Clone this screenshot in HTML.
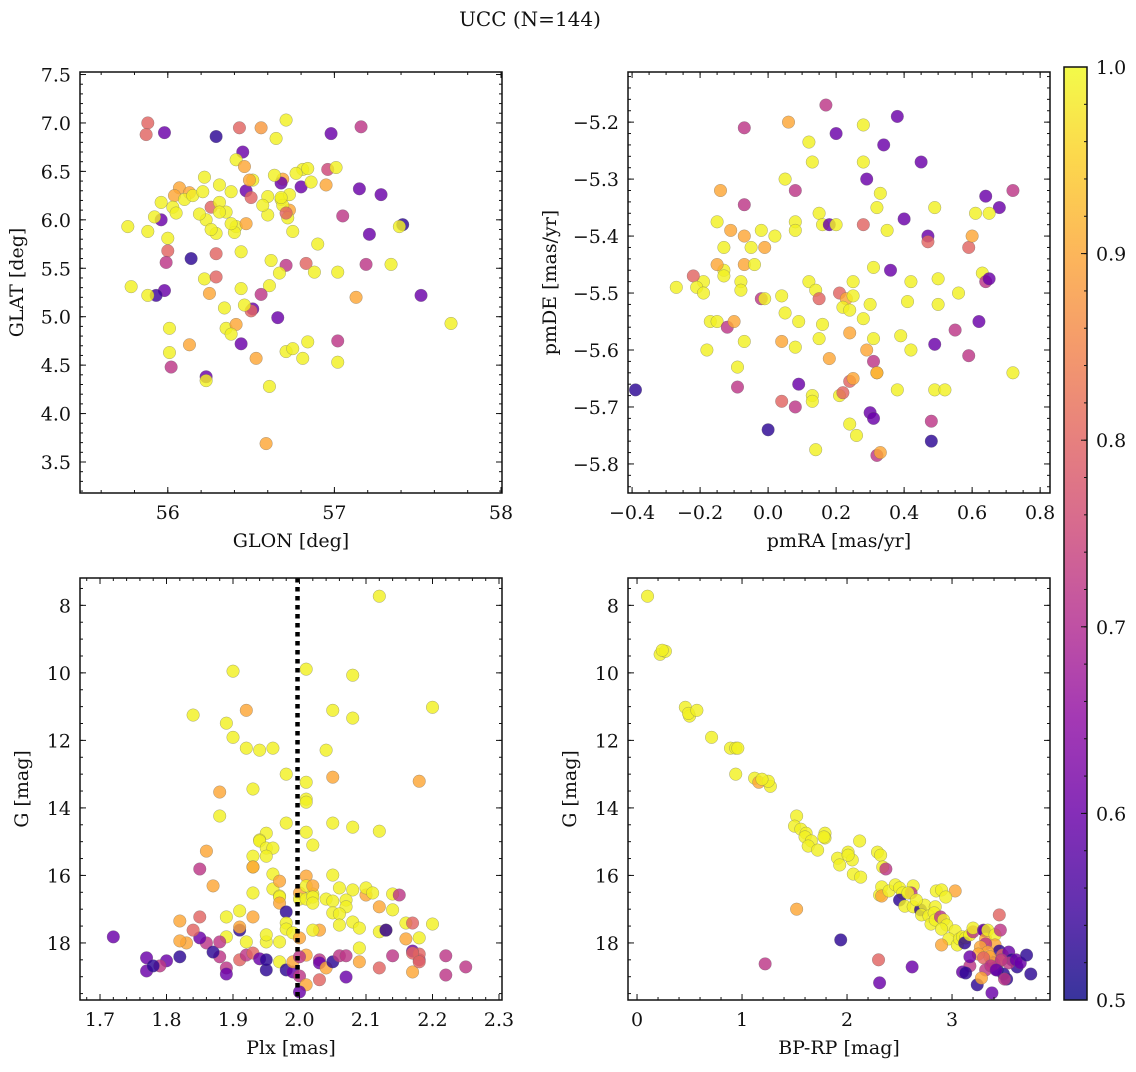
<!DOCTYPE html>
<html><head><meta charset="utf-8">
<style>
html,body{margin:0;padding:0;background:#fff;}
svg text{font-family:"DejaVu Serif","Liberation Serif",serif;fill:#111;}
</style></head>
<body>
<svg id="fig" width="1136" height="1067" viewBox="0 0 1136 1067" xmlns="http://www.w3.org/2000/svg">
<defs>
<linearGradient id="cbg" x1="0" y1="1" x2="0" y2="0">
<stop offset="0" stop-color="#0d0887"/><stop offset="0.1" stop-color="#41049d"/><stop offset="0.2" stop-color="#6a00a8"/><stop offset="0.3" stop-color="#8f0da4"/><stop offset="0.4" stop-color="#b12a90"/><stop offset="0.5" stop-color="#cc4778"/><stop offset="0.6" stop-color="#e16462"/><stop offset="0.7" stop-color="#f2844b"/><stop offset="0.8" stop-color="#fca636"/><stop offset="0.9" stop-color="#fcce25"/><stop offset="1" stop-color="#f0f921"/>
</linearGradient>
</defs>
<text x="530" y="26" font-size="20" text-anchor="middle">UCC (N=144)</text>
</svg>
<script>
// ---- Data (per panel) ----
const tlGlon=[55.88,55.87,55.98,56.29,56.43,56.56,56.71,56.65,56.98,57.16,56.45,56.41,56.46,56.22,56.07,56.04,56.13,56.03,55.96,55.96,55.92,56.05,56.10,56.15,56.21,56.26,56.31,56.31,56.38,56.47,56.50,56.51,56.69,56.68,56.60,56.68,56.73,56.73,56.69,56.72,56.75,56.60,56.57,56.80,56.81,56.77,56.96,57.01,56.95,57.15,57.28,57.41,57.39,57.21,57.05,56.90,57.34,57.19,57.02,56.83,56.88,56.71,56.67,56.62,56.61,56.56,56.51,56.50,56.46,56.44,56.35,56.41,56.40,56.44,56.29,56.22,56.25,56.29,56.34,56.35,56.41,56.38,56.47,56.29,56.23,56.19,56.26,56.00,56.00,56.14,55.99,55.98,55.93,55.88,55.88,55.76,55.78,56.01,56.01,56.02,56.13,56.23,56.23,56.44,56.53,56.61,56.66,56.71,56.75,56.81,56.84,57.02,57.02,57.13,57.52,57.70,56.59,56.68,56.71,56.84,56.86,56.64,56.49,56.31,56.38];
const tlGlat=[7.00,6.88,6.90,6.86,6.95,6.95,7.03,6.84,6.89,6.96,6.70,6.62,6.55,6.44,6.33,6.25,6.28,6.13,6.18,6.00,6.03,6.07,6.21,6.25,6.29,6.13,6.18,6.36,6.29,6.30,6.23,6.41,6.42,6.38,6.24,6.21,6.10,6.26,6.15,6.02,5.88,6.05,6.15,6.34,6.52,6.48,6.52,6.54,6.36,6.32,6.26,5.95,5.93,5.85,6.04,5.75,5.54,5.54,5.46,5.55,5.46,5.53,5.45,5.58,5.32,5.23,5.08,5.06,5.12,5.29,6.08,5.93,5.87,5.67,5.65,5.39,5.24,5.41,5.09,4.88,4.92,4.82,5.96,5.86,6.00,6.06,5.90,5.81,5.68,5.60,5.56,5.27,5.22,5.22,5.88,5.93,5.31,4.88,4.63,4.48,4.71,4.38,4.34,4.72,4.57,4.28,4.99,4.64,4.67,4.57,4.74,4.75,4.53,5.20,5.22,4.93,3.69,6.23,6.07,6.53,6.39,6.46,6.41,6.08,5.96];
const tlProb=[0.8,0.8,0.6,0.53,0.8,0.88,0.99,0.99,0.6,0.72,0.6,0.99,0.9,0.99,0.9,0.9,0.9,0.99,0.99,0.6,0.99,0.99,0.99,0.99,0.99,0.8,0.99,0.99,0.99,0.6,0.8,0.99,0.9,0.6,0.99,0.99,0.9,0.99,0.99,0.99,0.99,0.99,0.99,0.6,0.99,0.99,0.75,0.99,0.9,0.6,0.6,0.53,0.99,0.6,0.72,0.99,0.99,0.72,0.99,0.8,0.99,0.72,0.99,0.99,0.99,0.72,0.6,0.8,0.99,0.99,0.99,0.99,0.99,0.99,0.8,0.99,0.9,0.8,0.99,0.99,0.9,0.99,0.9,0.99,0.99,0.99,0.99,0.99,0.8,0.53,0.72,0.6,0.55,0.99,0.99,0.99,0.99,0.99,0.99,0.72,0.9,0.6,0.99,0.6,0.9,0.99,0.6,0.99,0.99,0.99,0.99,0.72,0.99,0.9,0.6,0.99,0.9,0.99,0.8,0.99,0.99,0.99,0.9,0.99,0.99];

const trPmra=[-0.39,0.17,0.06,0.12,0.20,0.28,0.38,0.34,0.45,0.28,0.29,0.13,0.05,-0.14,-0.07,0.08,0.33,0.32,0.64,0.72,0.68,0.65,0.61,0.40,0.49,0.15,0.16,0.08,0.08,0.18,0.20,0.28,0.35,0.36,0.47,0.47,0.59,0.60,-0.07,-0.15,-0.11,-0.07,-0.02,0.02,-0.01,-0.05,-0.13,-0.13,-0.15,-0.07,-0.04,-0.19,-0.13,-0.08,-0.22,-0.21,-0.19,-0.27,-0.08,-0.02,-0.01,0.04,0.05,0.12,0.14,0.15,0.21,0.23,0.25,0.25,0.22,0.24,0.30,0.31,0.42,0.50,0.56,0.63,0.64,0.65,0.62,0.55,0.50,0.41,0.24,0.28,0.16,0.09,0.15,0.08,0.04,-0.17,-0.18,-0.15,-0.12,-0.10,-0.07,0.29,0.31,0.31,0.32,0.39,0.49,0.59,0.72,0.42,-0.09,-0.09,0.09,0.04,0.08,0.00,0.13,0.13,0.24,0.25,0.21,0.22,0.32,0.30,0.31,0.38,0.49,0.52,0.48,0.48,0.24,0.26,0.32,0.33,0.14,0.18];
const trPmde=[-5.67,-5.17,-5.20,-5.235,-5.22,-5.205,-5.19,-5.24,-5.27,-5.27,-5.30,-5.27,-5.30,-5.32,-5.21,-5.32,-5.325,-5.35,-5.33,-5.32,-5.35,-5.36,-5.36,-5.37,-5.35,-5.36,-5.38,-5.375,-5.39,-5.38,-5.38,-5.38,-5.39,-5.46,-5.40,-5.41,-5.42,-5.40,-5.345,-5.375,-5.39,-5.40,-5.39,-5.40,-5.42,-5.42,-5.42,-5.46,-5.45,-5.45,-5.45,-5.48,-5.47,-5.48,-5.47,-5.49,-5.50,-5.49,-5.495,-5.51,-5.51,-5.505,-5.535,-5.48,-5.495,-5.51,-5.50,-5.51,-5.505,-5.48,-5.525,-5.53,-5.52,-5.455,-5.48,-5.475,-5.50,-5.465,-5.48,-5.475,-5.55,-5.565,-5.52,-5.515,-5.57,-5.545,-5.555,-5.55,-5.58,-5.595,-5.585,-5.55,-5.60,-5.55,-5.56,-5.55,-5.585,-5.60,-5.58,-5.62,-5.64,-5.575,-5.59,-5.61,-5.64,-5.60,-5.63,-5.665,-5.66,-5.69,-5.70,-5.74,-5.68,-5.69,-5.655,-5.65,-5.68,-5.675,-5.64,-5.71,-5.72,-5.67,-5.67,-5.67,-5.725,-5.76,-5.73,-5.75,-5.785,-5.78,-5.775,-5.615];
const trProb=[0.53,0.72,0.9,0.99,0.6,0.99,0.6,0.6,0.6,0.99,0.6,0.99,0.99,0.9,0.72,0.72,0.99,0.99,0.6,0.72,0.6,0.99,0.99,0.6,0.99,0.99,0.99,0.99,0.99,0.6,0.99,0.8,0.99,0.6,0.6,0.8,0.8,0.9,0.72,0.99,0.9,0.9,0.99,0.99,0.9,0.99,0.99,0.99,0.9,0.9,0.99,0.99,0.99,0.99,0.8,0.99,0.99,0.99,0.99,0.72,0.99,0.99,0.99,0.99,0.99,0.8,0.8,0.9,0.99,0.99,0.99,0.99,0.99,0.99,0.99,0.99,0.99,0.99,0.72,0.6,0.6,0.72,0.99,0.99,0.9,0.99,0.99,0.99,0.99,0.99,0.9,0.99,0.99,0.99,0.72,0.9,0.99,0.9,0.99,0.72,0.99,0.99,0.6,0.72,0.99,0.99,0.99,0.72,0.6,0.8,0.72,0.53,0.99,0.99,0.8,0.9,0.99,0.8,0.9,0.6,0.6,0.99,0.99,0.99,0.72,0.53,0.99,0.99,0.72,0.9,0.99,0.9];

const blPlx=[2.12,2.01,1.90,2.08,2.20,1.84,1.89,1.92,1.90,2.05,2.08,1.92,1.94,1.96,2.04,1.98,2.05,2.01,2.18,1.88,1.93,1.88,2.01,2.01,1.98,1.95,1.94,1.94,2.01,2.02,2.08,2.05,2.12,1.95,1.96,1.86,1.95,1.93,1.85,1.87,1.96,2.05,1.93,1.93,2.01,1.93,1.96,1.97,1.97,1.97,2.00,2.00,2.01,2.02,2.01,2.02,2.02,2.02,2.04,2.05,2.05,2.06,2.08,2.07,2.07,2.10,2.10,2.11,2.14,2.15,2.12,2.06,2.06,2.08,2.09,2.12,2.13,2.13,2.14,2.20,2.16,1.93,1.91,1.97,1.98,1.89,1.85,1.86,1.85,1.83,1.91,1.89,1.92,1.95,1.91,1.97,1.98,1.98,1.99,2.00,2.03,2.02,1.95,1.82,1.82,1.82,1.80,1.79,1.77,1.77,1.78,1.72,1.84,1.88,1.87,1.88,1.91,1.92,1.93,1.89,1.94,1.97,1.95,1.98,1.99,2.00,1.99,2.01,2.01,2.00,2.00,2.03,2.03,2.03,2.04,2.05,2.06,2.07,2.09,2.07,1.89,1.95,2.12,2.09,2.16,2.17,2.17,2.18,2.18,2.17,2.14,2.18,2.17,2.18,2.22,2.22,2.25,1.94];
const blG=[7.73,9.89,9.95,10.07,11.02,11.25,11.49,11.11,11.91,11.11,11.34,12.23,12.29,12.23,12.29,13.00,13.09,13.24,13.21,13.53,13.44,14.24,13.74,13.83,14.45,14.75,14.95,14.98,14.72,15.10,14.57,14.45,14.69,15.19,15.19,15.28,15.43,15.43,15.81,16.31,15.96,15.99,15.75,15.75,16.02,16.52,16.40,16.17,16.61,16.64,16.52,16.70,16.70,16.55,16.31,16.31,16.64,16.82,16.70,16.76,17.11,16.37,16.43,16.73,16.93,16.58,16.37,16.52,16.55,16.58,16.93,17.14,17.47,17.38,17.56,17.67,17.62,17.62,17.02,17.44,17.41,17.23,17.05,16.82,17.08,17.23,17.23,18.00,17.85,18.00,17.62,17.82,17.97,17.97,17.53,17.97,17.41,17.59,17.70,17.85,17.62,17.62,17.76,17.35,17.94,18.41,18.53,18.68,18.44,18.83,18.68,17.82,17.62,18.41,18.27,17.97,18.50,18.36,18.30,18.74,18.47,18.56,18.80,18.80,18.86,18.98,18.56,18.36,19.24,19.45,18.41,18.50,19.09,18.59,18.74,18.56,18.38,18.38,18.56,19.01,18.92,18.50,18.74,18.15,17.88,18.24,17.41,17.85,18.50,18.86,18.38,18.33,18.30,18.56,18.95,18.38,18.71];
const blProb=[0.99,0.99,0.99,0.99,0.99,0.99,0.99,0.9,0.99,0.99,0.99,0.99,0.99,0.99,0.99,0.99,0.9,0.99,0.9,0.9,0.99,0.99,0.99,0.99,0.99,0.99,0.99,0.99,0.99,0.99,0.99,0.99,0.99,0.99,0.99,0.9,0.99,0.99,0.72,0.9,0.99,0.99,0.99,0.9,0.9,0.99,0.99,0.9,0.99,0.99,0.9,0.99,0.99,0.99,0.99,0.9,0.99,0.99,0.99,0.99,0.99,0.99,0.99,0.99,0.99,0.9,0.99,0.99,0.99,0.72,0.9,0.99,0.99,0.99,0.99,0.99,0.9,0.53,0.99,0.99,0.99,0.9,0.99,0.9,0.53,0.99,0.8,0.72,0.6,0.9,0.53,0.99,0.99,0.99,0.9,0.99,0.99,0.99,0.99,0.9,0.9,0.99,0.99,0.9,0.9,0.53,0.6,0.72,0.6,0.6,0.53,0.6,0.8,0.72,0.53,0.72,0.8,0.72,0.8,0.72,0.6,0.99,0.53,0.53,0.6,0.72,0.9,0.9,0.9,0.6,0.72,0.72,0.8,0.6,0.9,0.53,0.72,0.72,0.9,0.6,0.6,0.53,0.8,0.99,0.9,0.6,0.8,0.99,0.72,0.9,0.72,0.8,0.8,0.8,0.72,0.72,0.72,0.6];

const brBprp=[0.10,0.22,0.27,0.24,0.46,0.50,0.49,0.57,0.71,0.89,0.94,0.96,0.94,1.12,1.16,1.27,1.25,1.19,1.52,1.50,1.56,1.61,1.60,1.66,1.79,1.79,1.78,1.63,1.72,1.91,1.93,2.01,2.05,2.01,2.12,2.29,2.32,2.06,2.13,2.34,2.37,2.31,2.33,2.33,2.40,2.46,2.50,2.53,2.50,2.63,2.55,2.63,2.70,2.74,2.85,2.90,3.03,2.94,2.61,2.58,2.66,2.84,2.71,2.78,2.80,2.83,2.84,2.89,2.92,2.95,2.90,3.03,2.97,2.90,3.05,3.07,3.10,3.13,3.12,3.17,3.20,3.20,3.30,3.31,3.32,3.34,3.41,3.41,3.45,3.46,3.45,3.48,3.46,3.43,3.38,3.40,3.32,3.27,3.17,3.10,3.13,3.24,3.38,3.34,3.36,3.25,3.17,3.30,3.54,3.57,3.62,3.54,3.49,3.61,3.65,3.71,3.75,3.52,3.50,3.47,3.32,3.37,3.42,3.28,1.52,1.22,1.94,2.30,2.31,2.62];
const brG=[7.73,9.45,9.36,9.33,11.02,11.28,11.20,11.11,11.91,12.23,12.23,12.23,13.00,13.12,13.24,13.36,13.21,13.15,14.24,14.54,14.63,14.75,14.86,14.98,14.75,14.89,14.86,15.13,15.25,15.49,15.69,15.31,15.54,15.40,14.98,15.31,15.40,15.96,16.05,15.75,15.81,16.58,16.34,16.61,16.46,16.28,16.37,16.52,16.73,16.31,16.91,16.93,17.02,16.88,16.46,16.43,16.46,16.64,16.52,16.52,16.73,16.93,17.17,17.20,17.44,17.11,17.32,17.23,17.32,17.47,17.59,17.64,17.88,18.06,18.06,17.88,17.82,17.85,18.00,17.76,17.67,17.56,17.62,17.64,17.88,17.62,17.76,18.06,17.17,17.62,18.24,18.36,18.53,18.80,18.56,18.62,18.03,18.12,18.68,18.86,18.89,19.24,19.48,18.27,18.41,18.33,18.41,18.44,18.27,18.50,18.71,18.59,18.92,18.50,18.59,18.36,18.92,19.07,19.07,18.50,18.80,18.68,18.80,19.04,17.00,18.62,17.91,18.50,19.18,18.71];
const brProb=[0.99,0.99,0.99,0.99,0.99,0.99,0.99,0.99,0.99,0.99,0.99,0.99,0.99,0.99,0.9,0.99,0.99,0.99,0.99,0.99,0.99,0.99,0.99,0.99,0.99,0.99,0.99,0.99,0.99,0.99,0.99,0.99,0.99,0.99,0.99,0.99,0.99,0.99,0.99,0.99,0.72,0.99,0.99,0.9,0.99,0.99,0.99,0.99,0.53,0.99,0.99,0.99,0.53,0.99,0.99,0.99,0.9,0.99,0.72,0.99,0.99,0.99,0.99,0.99,0.99,0.99,0.99,0.72,0.99,0.99,0.99,0.99,0.99,0.9,0.99,0.99,0.99,0.99,0.53,0.99,0.72,0.99,0.6,0.6,0.9,0.99,0.99,0.9,0.8,0.72,0.53,0.8,0.9,0.53,0.53,0.8,0.72,0.9,0.72,0.6,0.53,0.53,0.6,0.9,0.9,0.9,0.6,0.8,0.6,0.53,0.53,0.72,0.53,0.6,0.6,0.53,0.53,0.53,0.72,0.72,0.72,0.72,0.6,0.9,0.9,0.72,0.53,0.8,0.6,0.6];

const plxLine=1.997;
const cbTicks=[0.5,0.6,0.7,0.8,0.9,1.0];

// ---- Rendering ----
const svg=document.getElementById('fig');
const NS='http://www.w3.org/2000/svg';
function mk(tag,attrs,parent){const e=document.createElementNS(NS,tag);for(const k in attrs)e.setAttribute(k,attrs[k]);(parent||svg).appendChild(e);return e;}
const stops=[[13,8,135],[65,4,157],[106,0,168],[143,13,164],[177,42,144],[204,71,120],[225,100,98],[242,132,75],[252,166,54],[252,206,37],[240,249,33]];
function plasma(p){let t=(p-0.5)/0.5;t=Math.max(0,Math.min(1,t))*10;const i=Math.min(9,Math.floor(t)),f=t-i;const a=stops[i],b=stops[i+1];return 'rgb('+a.map((v,k)=>Math.round(v+(b[k]-v)*f)).join(',')+')';}
function fmt(v,d){let s=v.toFixed(d);return s.replace('-','\u2212');}
const FS=19;

function panel(cfg){
  const {name,x0,y0,x1,y1,xd,yd,xt,xmin,yt,ymin,xdec,ydec,xlabel,ylabel,xs,ys,ps}=cfg;
  const g=mk('g',{});
  
  
  const sx=v=>x0+(v-xd[0])/(xd[1]-xd[0])*(x1-x0);
  const sy=v=>y1-(v-yd[0])/(yd[1]-yd[0])*(y1-y0);
  const cid='clip-'+name;
  const cp=mk('clipPath',{id:cid},g);mk('rect',{x:x0,y:y0,width:x1-x0,height:y1-y0},cp);
  const pts=mk('g',{'clip-path':'url(#'+cid+')'},g);
  
  
  for(let i=0;i<xs.length;i++){
    const c=mk('circle',{cx:sx(xs[i]),cy:sy(ys[i]),r:6.3,fill:plasma(ps[i]),'fill-opacity':0.82,stroke:'#666','stroke-width':0.4,'stroke-opacity':0.7},pts);
    
    
  }
  if(cfg.extra)cfg.extra(g,sx,sy);
  const tk=mk('g',{stroke:'#111','stroke-width':1},g);
  const inX=v=>{const p=sx(v);return p>=x0-0.5&&p<=x1+0.5;};
  const inY=v=>{const p=sy(v);return p>=Math.min(y0,y1)-0.5&&p<=Math.max(y0,y1)+0.5;};
  function ticksX(list,len){list.forEach(v=>{if(!inX(v))return;const p=sx(v);mk('line',{x1:p,x2:p,y1:y1,y2:y1-len},tk);mk('line',{x1:p,x2:p,y1:y0,y2:y0+len},tk);});}
  function ticksY(list,len){list.forEach(v=>{if(!inY(v))return;const p=sy(v);mk('line',{x1:x0,x2:x0+len,y1:p,y2:p},tk);mk('line',{x1:x1,x2:x1-len,y1:p,y2:p},tk);});}
  const range=(a,b,s)=>{const r=[];for(let v=a;v<=b+1e-9;v+=s)r.push(+v.toFixed(6));return r;};
  ticksX(range(Math.ceil(xd[0]/xmin)*xmin,xd[1],xmin),3);
  ticksX(xt,6);
  const ylo=Math.min(yd[0],yd[1]),yhi=Math.max(yd[0],yd[1]);
  ticksY(range(Math.ceil(ylo/ymin)*ymin,yhi,ymin),3);
  ticksY(yt,6);
  mk('rect',{x:x0,y:y0,width:x1-x0,height:y1-y0,fill:'none',stroke:'#111','stroke-width':1.5},g);
  xt.forEach(v=>{if(!inX(v))return;const t=mk('text',{x:sx(v),y:y1+26,'font-size':FS,'text-anchor':'middle'},g);t.textContent=fmt(v,xdec);
    });
  yt.forEach(v=>{if(!inY(v))return;const t=mk('text',{x:x0-9,y:sy(v)+7,'font-size':FS,'text-anchor':'end'},g);t.textContent=fmt(v,ydec);
    });
  const xl=mk('text',{x:(x0+x1)/2,y:y1+54,'font-size':FS,'text-anchor':'middle'},g);xl.textContent=xlabel;
  
  const yl=mk('text',{x:0,y:0,'font-size':FS,'text-anchor':'middle',transform:'translate('+(cfg.ylx)+','+((y0+y1)/2)+') rotate(-90)'},g);yl.textContent=ylabel;
  
}

panel({name:'glon-glat',x0:80,y0:72,x1:502,y1:493,xd:[55.473,58.006],yd:[3.18,7.526],xt:[56,57,58],xmin:0.2,yt:[3.5,4.0,4.5,5.0,5.5,6.0,6.5,7.0,7.5],ymin:0.1,xdec:0,ydec:1,xlabel:'GLON [deg]',ylabel:'GLAT [deg]',ylx:23,xs:tlGlon,ys:tlGlat,ps:tlProb});
panel({name:'pm',x0:628,y0:72,x1:1050,y1:493,xd:[-0.412,0.829],yd:[-5.851,-5.112],xt:[-0.4,-0.2,0.0,0.2,0.4,0.6,0.8],xmin:0.05,yt:[-5.8,-5.7,-5.6,-5.5,-5.4,-5.3,-5.2],ymin:0.02,xdec:1,ydec:1,xlabel:'pmRA [mas/yr]',ylabel:'pmDE [mas/yr]',ylx:556,xs:trPmra,ys:trPmde,ps:trProb});
panel({name:'plx-g',x0:80,y0:578,x1:502,y1:1000,xd:[1.6699,2.3045],yd:[19.69,7.19],xt:[1.7,1.8,1.9,2.0,2.1,2.2,2.3],xmin:0.02,yt:[8,10,12,14,16,18],ymin:0.5,xdec:1,ydec:0,xlabel:'Plx [mas]',ylabel:'G [mag]',ylx:28,xs:blPlx,ys:blG,ps:blProb,
  extra:(g,sx,sy)=>{const l=mk('line',{x1:sx(plxLine),x2:sx(plxLine),y1:578,y2:1000,stroke:'#000','stroke-width':4.5,'stroke-dasharray':'4.5 4.5'},g);
    }});
panel({name:'cmd',x0:628,y0:578,x1:1050,y1:1000,xd:[-0.086,3.933],yd:[19.69,7.19],xt:[0,1,2,3],xmin:0.2,yt:[8,10,12,14,16,18],ymin:0.5,xdec:0,ydec:0,xlabel:'BP-RP [mag]',ylabel:'G [mag]',ylx:576,xs:brBprp,ys:brG,ps:brProb});

const cb=mk('g',{});


const cbx=1064,cbw=23,cby0=67,cby1=1000;
mk('rect',{x:cbx,y:cby0,width:cbw,height:cby1-cby0,fill:'url(#cbg)','fill-opacity':0.82},cb);
const csy=v=>cby1-(v-0.5)/0.5*(cby1-cby0);
for(let v=0.5;v<=1.0001;v+=0.02){const p=csy(v);mk('line',{x1:cbx+cbw,x2:cbx+cbw-3,y1:p,y2:p,stroke:'#111','stroke-width':1},cb);}
cbTicks.forEach(v=>{const p=csy(v);mk('line',{x1:cbx+cbw,x2:cbx+cbw-6,y1:p,y2:p,stroke:'#111','stroke-width':1},cb);
  const t=mk('text',{x:cbx+cbw+9,y:p+7,'font-size':FS},cb);t.textContent=v.toFixed(1);
  });
mk('rect',{x:cbx,y:cby0,width:cbw,height:cby1-cby0,fill:'none',stroke:'#111','stroke-width':1.5},cb);
</script>
</body></html>
